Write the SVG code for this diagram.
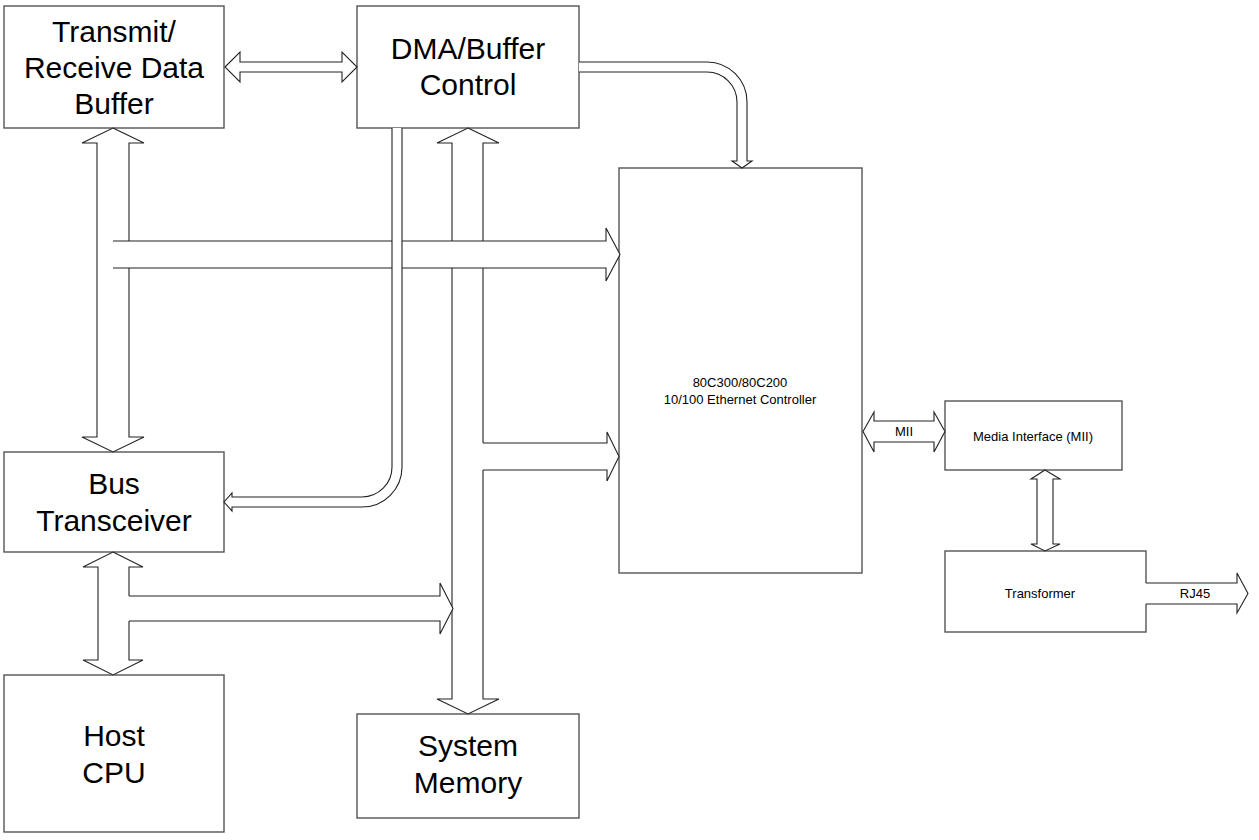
<svg xmlns="http://www.w3.org/2000/svg" width="1259" height="840" viewBox="0 0 1259 840">
<style>
.box{fill:#fff;stroke:#555;stroke-width:1.4}
.big{font-family:"Liberation Sans",Arial,sans-serif;font-size:30px;fill:#000;text-anchor:middle}
.sm{font-family:"Liberation Sans",Arial,sans-serif;font-size:13px;fill:#000;text-anchor:middle}
.ar{fill:#fff;stroke:#222;stroke-width:1.1;stroke-linejoin:miter}
.fl{fill:#fff;stroke:none}
.ln{fill:none;stroke:#222;stroke-width:1.1}
</style>
<rect width="1259" height="840" fill="#fff"/>
<g id="txbuf"><rect class="box" x="4" y="6" width="220" height="122"/>
<text class="big" x="114" y="42">Transmit/</text><text class="big" x="114" y="78">Receive Data</text><text class="big" x="114" y="114">Buffer</text></g>
<g id="dma"><rect class="box" x="357" y="6" width="222" height="122"/>
<text class="big" x="468" y="59">DMA/Buffer</text><text class="big" x="468" y="95">Control</text></g>
<g id="bus"><rect class="box" x="4" y="452" width="220" height="100"/>
<text class="big" x="114" y="494">Bus</text><text class="big" x="114" y="531">Transceiver</text></g>
<g id="cpu"><rect class="box" x="4" y="675" width="220" height="157"/>
<text class="big" x="114" y="746">Host</text><text class="big" x="114" y="783">CPU</text></g>
<g id="sysmem"><rect class="box" x="357" y="714" width="222" height="104"/>
<text class="big" x="468" y="756">System</text><text class="big" x="468" y="793">Memory</text></g>
<g id="eth"><rect class="box" x="619" y="168" width="243" height="405"/>
<text class="sm" x="740" y="387">80C300/80C200</text><text class="sm" x="740" y="404">10/100 Ethernet Controller</text></g>
<g id="mii"><rect class="box" x="945" y="401" width="177" height="69"/>
<text class="sm" x="1033" y="441">Media Interface (MII)</text></g>
<g id="xfmr"><rect class="box" x="945" y="551" width="201" height="81"/>
<text class="sm" x="1040" y="598">Transformer</text></g>
<g id="connectors">
<polygon class="ar" points="225,67 240,52 240,62 342,62 342,52 357,67 342,82 342,72 240,72 240,82"/>
<polygon class="ar" points="113,128 144,143 129,143 129,437 144,437 113,452 82,437 97,437 97,143 82,143"/>
<polygon class="ar" points="468,128 499,143 483,143 483,699 499,699 468,714 437,699 452,699 452,143 437,143"/>
<polygon class="ar" points="113,552 143,567 129,567 129,660 143,660 113,675 83,660 98,660 98,567 83,567"/>
<polygon class="fl" points="113,241 606,241 606,228 620,254.5 606,281 606,268 113,268"/>
<path class="ln" d="M113,241 H606 V228 L620,254.5 L606,281 V268 H113"/>
<path class="ar" d="M392,128 V467 A30,30 0 0 1 362,497 H232 V493 L224,502 L232,511 V507 H362 A40,40 0 0 0 402,467 V128"/>
<path class="ar" d="M579,62 H707 A40,40 0 0 1 747,102 V161 H752 L742,168 L732,161 H737 V102 A30,30 0 0 0 707,72 H579"/>
<polygon class="fl" points="482,443 607,443 607,432 619,456.5 607,481 607,470 482,470"/>
<path class="ln" d="M483,443 H607 V432 L619,456.5 L607,481 V470 H483"/>
<polygon class="fl" points="128,596 440,596 440,583 453,608.5 440,634 440,621 128,621"/>
<path class="ln" d="M129,596 H440 V583 L453,608.5 L440,634 V621 H129"/>
<polygon class="ar" points="863,431.5 874,412 874,421 934,421 934,412 945,431.5 934,452 934,442 874,442 874,452"/>
<text class="sm" x="904" y="436">MII</text>
<polygon class="ar" points="1045,470 1060,479 1053,479 1053,544 1060,544 1045,551 1031,544 1037,544 1037,479 1031,479"/>
<polygon class="fl" points="1145,583 1237,583 1237,573 1248,593.5 1237,613 1237,604 1145,604"/>
<path class="ln" d="M1146,583 H1237 V573 L1248,593.5 L1237,613 V604 H1146"/>
<text class="sm" x="1195" y="598">RJ45</text>
</g>
</svg>
